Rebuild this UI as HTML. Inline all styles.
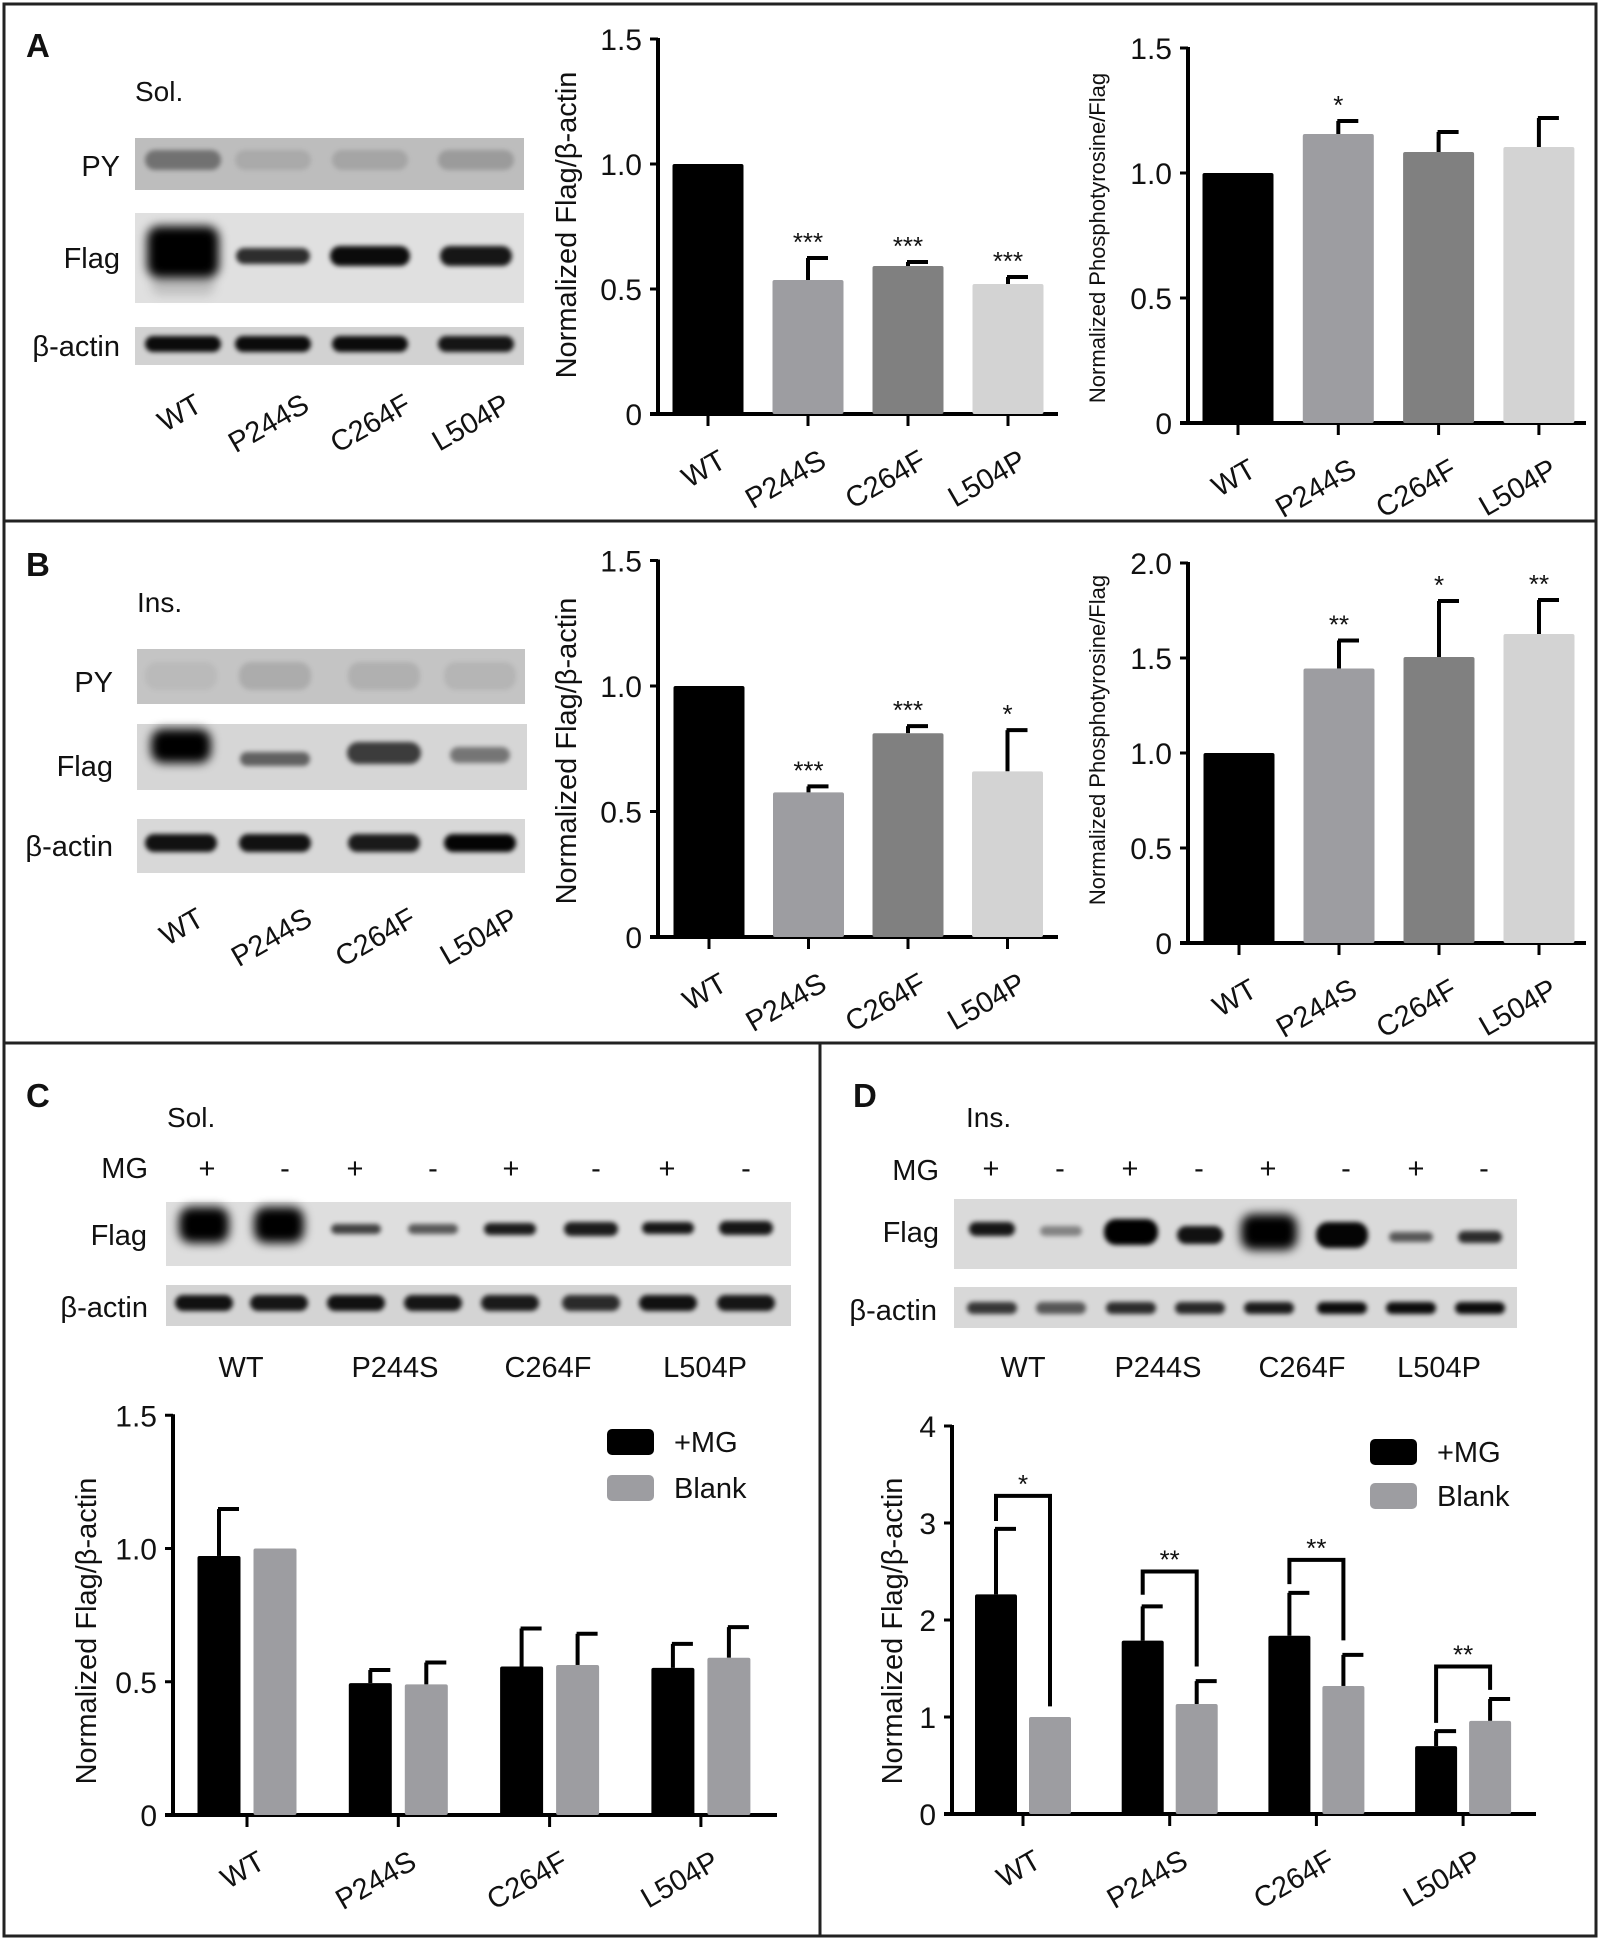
<!DOCTYPE html>
<html><head><meta charset="utf-8"><title>Figure</title>
<style>
html,body{margin:0;padding:0;background:#fff;}
svg{display:block;font-family:"Liberation Sans",Arial,sans-serif;}
</style></head>
<body>
<svg id="fig" width="1599" height="1946" viewBox="0 0 1599 1946" xmlns="http://www.w3.org/2000/svg">
<defs>
<filter id="b3" x="-50%" y="-100%" width="200%" height="300%"><feGaussianBlur stdDeviation="2.5"/></filter>
<filter id="b6" x="-50%" y="-100%" width="200%" height="300%"><feGaussianBlur stdDeviation="5"/></filter>
</defs>
<rect x="0" y="0" width="1599" height="1946" fill="#fff"/>
<g id="frame" stroke="#222" stroke-width="3" fill="none">
<rect x="4" y="4" width="1592" height="1932"/>
<line x1="4" y1="521" x2="1596" y2="521"/>
<line x1="4" y1="1043" x2="1596" y2="1043"/>
<line x1="820" y1="1043" x2="820" y2="1936"/>
</g>
<g id="static" font-size="28" fill="#111">
<text x="26" y="57" font-size="33" font-weight="bold">A</text>
<text x="26" y="576" font-size="33" font-weight="bold">B</text>
<text x="26" y="1107" font-size="33" font-weight="bold">C</text>
<text x="853" y="1107" font-size="33" font-weight="bold">D</text>
<text x="135" y="101">Sol.</text>
<text x="137" y="612">Ins.</text>
<text x="167" y="1127">Sol.</text>
<text x="966" y="1127">Ins.</text>
</g>
<g id="blots"></g>
<g id="charts"></g>
</svg>
<script>
// ---------- chart data ----------
const categories = ["WT","P244S","C264F","L504P"];
const a1Values = [1.0, 0.536, 0.592, 0.52];
const a1Errors = [1.0, 0.624, 0.608, 0.548];
const a1Stars = ["", "***", "***", "***"];
const a1Ticks = [0, 0.5, 1.0, 1.5];
const a1TickLabels = ["0","0.5","1.0","1.5"];
const a2Values = [1.0, 1.156, 1.084, 1.104];
const a2Errors = [1.0, 1.208, 1.164, 1.22];
const a2Stars = ["", "*", "", ""];
const b1Values = [1.0, 0.576, 0.812, 0.66];
const b1Errors = [1.0, 0.60, 0.84, 0.824];
const b1Stars = ["", "***", "***", "*"];
const b2Values = [1.0, 1.445, 1.505, 1.626];
const b2Errors = [1.0, 1.592, 1.80, 1.805];
const b2Stars = ["", "**", "*", "**"];
const b2Ticks = [0, 0.5, 1.0, 1.5, 2.0];
const b2TickLabels = ["0","0.5","1.0","1.5","2.0"];
const seriesNames = ["+MG","Blank"];
const cMG = [0.972, 0.495, 0.557, 0.552];
const cMGErr = [1.148, 0.544, 0.70, 0.642];
const cBlank = [1.0, 0.49, 0.563, 0.59];
const cBlankErr = [1.0, 0.572, 0.68, 0.705];
const dMG = [2.264, 1.787, 1.837, 0.70];
const dMGErr = [2.94, 2.14, 2.28, 0.855];
const dBlank = [1.0, 1.134, 1.32, 0.96];
const dBlankErr = [1.0, 1.37, 1.64, 1.185];
const dTicks = [0, 1, 2, 3, 4];
const dTickLabels = ["0","1","2","3","4"];
const dBracketTop = [3.28, 2.5, 2.62, 1.52];
const dBracketLeftEnd = [3.02, 2.26, 2.37, 0.94];
const dBracketRightEnd = [1.11, 1.52, 1.79, 1.28];
const dBracketStars = ["*", "**", "**", "**"];

const NS = "http://www.w3.org/2000/svg";
const singleColors = ["#000000","#9d9da1","#808080","#d3d3d3"];
const groupColors = ["#000000","#9d9da1"];

function mk(tag, attrs, parent, txt){
  const e = document.createElementNS(NS, tag);
  for (const k in attrs) e.setAttribute(k, attrs[k]);
  if (txt !== undefined) e.textContent = txt;
  if (parent) parent.appendChild(e);
  return e;
}
const charts = document.getElementById('charts');

function drawAxes(g, cfg, ticks, labels){
  const y = v => cfg.y0 - v*cfg.scale;
  const ax = mk('line',{x1:cfg.ax,y1:y(ticks[ticks.length-1])-1,x2:cfg.ax,y2:cfg.y0+2,stroke:'#000','stroke-width':4},g);
  
  
  const xl = mk('line',{x1:cfg.ax-8,y1:cfg.y0,x2:cfg.xEnd,y2:cfg.y0,stroke:'#000','stroke-width':4},g);
  
  
  ticks.forEach((t,i)=>{
    const tk = mk('line',{x1:cfg.ax-8,y1:y(t),x2:cfg.ax,y2:y(t),stroke:'#000','stroke-width':3},g);
    
    
    const tl = mk('text',{x:cfg.ax-16,y:y(t)+11,'text-anchor':'end','font-size':30,fill:'#111'},g,labels[i]);
    
    
  });
  categories.forEach((c,i)=>{
    const cx = cfg.x(i);
    const tk = mk('line',{x1:cx,y1:cfg.y0,x2:cx,y2:cfg.y0+12,stroke:'#000','stroke-width':3},g);
    
    
    const tl = mk('text',{x:0,y:0,'text-anchor':'end','font-size':29,fill:'#111',transform:`translate(${cx+20},${cfg.y0+52}) rotate(-30)`},g,c);
    
    
  });
  const tt = mk('text',{x:0,y:0,'text-anchor':'middle','font-size':cfg.titleSize,fill:'#111',transform:`translate(${cfg.titleX},${cfg.titleY}) rotate(-90)`},g,cfg.title);
  
  
  return y;
}
function errBar(g, cx, yTop, yErr){
  const l = mk('line',{x1:cx,y1:yTop,x2:cx,y2:yErr,stroke:'#000','stroke-width':4},g);
  
  
  const c = mk('line',{x1:cx-1,y1:yErr,x2:cx+20,y2:yErr,stroke:'#000','stroke-width':4},g);
  
  
}
function singleChart(name, cfg, vals, errs, stars, ticks, labels){
  const g = mk('g',{},charts);
  
  
  const y = drawAxes(g, cfg, ticks, labels);
  vals.forEach((v,i)=>{
    const cx = cfg.x(i);
    if (errs[i] > v) errBar(g, cx, y(v), y(errs[i]));
    const r = mk('rect',{x:cx-cfg.bw/2,y:y(v),width:cfg.bw,height:cfg.y0-y(v),rx:2,fill:singleColors[i]},g);
    
    
    if (stars[i]){
      const s = mk('text',{x:cx,y:y(errs[i])-7,'text-anchor':'middle','font-size':26,fill:'#111'},g,stars[i]);
      
      
    }
  });
}
function groupChart(name, cfg, s1, e1, s2, e2, ticks, labels, legend){
  const g = mk('g',{},charts);
  
  
  const y = drawAxes(g, cfg, ticks, labels);
  [[s1,e1],[s2,e2]].forEach((s,k)=>{
    s[0].forEach((v,i)=>{
      const cx = cfg.x(i) + (k===0?-cfg.off:cfg.off);
      if (s[1][i] > v) errBar(g, cx, y(v), y(s[1][i]));
      const r = mk('rect',{x:cx-cfg.bw/2,y:y(v),width:cfg.bw,height:cfg.y0-y(v),rx:2,fill:groupColors[k]},g);
      
      
    });
  });
  seriesNames.forEach((n,k)=>{
    const lg = mk('g',{},g);
    
    
    mk('rect',{x:legend.x,y:legend.y+k*legend.dy,width:47,height:26,rx:5,fill:groupColors[k]},lg);
    mk('text',{x:legend.x+67,y:legend.y+k*legend.dy+23,'font-size':29,fill:'#111'},lg,n);
  });
  return {g,y};
}

singleChart('chart-a-flag', {ax:658,y0:414,scale:250,xEnd:1058,x:i=>708+100*i,bw:71,title:'Normalized Flag/β-actin',titleSize:29,titleX:576,titleY:225}, a1Values, a1Errors, a1Stars, a1Ticks, a1TickLabels);
singleChart('chart-a-phospho', {ax:1188,y0:423,scale:250,xEnd:1586,x:i=>1238+100.3*i,bw:71,title:'Normalized Phosphotyrosine/Flag',titleSize:22,titleX:1105,titleY:238}, a2Values, a2Errors, a2Stars, a1Ticks, a1TickLabels);
singleChart('chart-b-flag', {ax:658,y0:937,scale:251,xEnd:1058,x:i=>709+99.5*i,bw:71,title:'Normalized Flag/β-actin',titleSize:29,titleX:576,titleY:751}, b1Values, b1Errors, b1Stars, a1Ticks, a1TickLabels);
singleChart('chart-b-phospho', {ax:1188,y0:943,scale:190,xEnd:1586,x:i=>1239+100*i,bw:71,title:'Normalized Phosphotyrosine/Flag',titleSize:22,titleX:1105,titleY:740}, b2Values, b2Errors, b2Stars, b2Ticks, b2TickLabels);
groupChart('chart-c', {ax:173,y0:1815,scale:266.5,xEnd:777,x:i=>247+151.3*i,off:28,bw:43,title:'Normalized Flag/β-actin',titleSize:29,titleX:96,titleY:1631}, cMG, cMGErr, cBlank, cBlankErr, a1Ticks, a1TickLabels, {x:607,y:1429,dy:46});
const dc = {ax:952,y0:1814,scale:97,xEnd:1536,x:i=>1023+146.7*i,off:27,bw:42,title:'Normalized Flag/β-actin',titleSize:29,titleX:902,titleY:1631};
const D = groupChart('chart-d', dc, dMG, dMGErr, dBlank, dBlankErr, dTicks, dTickLabels, {x:1370,y:1439,dy:44});
dBracketTop.forEach((t,i)=>{
  const xl = dc.x(i)-dc.off, xr = dc.x(i)+dc.off;
  const p = mk('polyline',{points:`${xl},${D.y(dBracketLeftEnd[i])} ${xl},${D.y(t)} ${xr},${D.y(t)} ${xr},${D.y(dBracketRightEnd[i])}`,fill:'none',stroke:'#000','stroke-width':4},D.g);
  
  
  const s = mk('text',{x:(xl+xr)/2,y:D.y(t)-3,'text-anchor':'middle','font-size':26,fill:'#111'},D.g,dBracketStars[i]);
  
  
});

// ---------- western blots (image-like) ----------
const blots = document.getElementById('blots');
function blot(name, x, y, w, h, bg, bands){
  const g = mk('g',{},blots);
  
  
  mk('rect',{x:x,y:y,width:w,height:h,fill:bg},g);
  bands.forEach(b=>{
    mk('rect',{x:b[0]-b[2],y:b[1]-b[3],width:2*b[2],height:2*b[3],rx:Math.min(b[3],12),fill:'#000','fill-opacity':b[4],filter:b[5]||'url(#b3)'},g);
  });
}
function lanes(xs, cy, rx, ry, ops, extra){
  return xs.map((x,i)=>[x,cy,rx,ry,ops[i]]).concat(extra||[]);
}
const laneA=[183,273,370,476], laneB=[181,275,384,480];
blot('blot-a-py',135,138,389,52,'#bdbdbd',lanes(laneA,160,38,10,[0.4,0.1,0.13,0.18]));
blot('blot-a-flag',135,213,389,90,'#e0e0e0',[[183,252,36,26,1,'url(#b6)'],[183,285,32,10,0.15,'url(#b6)'],[273,256,37,8,0.8],[370,256,40,10,0.95],[476,256,36,10,0.9]]);
blot('blot-a-actin',135,327,389,38,'#d2d2d2',lanes(laneA,344,38,8,[0.95,0.95,0.95,0.9]));
blot('blot-b-py',137,649,388,55,'#c4c4c4',lanes(laneB,676,36,14,[0.05,0.12,0.1,0.08]));
blot('blot-b-flag',137,724,390,66,'#d6d6d6',[[181,746,30,17,1,'url(#b6)'],[275,759,35,7,0.55],[384,753,37,11,0.72],[480,755,30,8,0.45]]);
blot('blot-b-actin',137,819,388,54,'#d8d8d8',lanes(laneB,843,36,9,[0.92,0.92,0.88,0.98]));
const laneC=[204,279,356,433,510,591,668,746], laneD=[992,1061,1131,1200,1269,1342,1411,1480];
blot('blot-c-flag',166,1202,625,64,'#dedede',[[204,1225,25,18,1,'url(#b6)'],[279,1225,25,18,1,'url(#b6)'],[356,1229,25,5,0.7],[433,1229,25,5,0.6],[510,1229,26,6,0.88],[591,1229,27,7,0.88],[668,1228,26,6,0.9],[746,1228,27,7,0.9]]);
blot('blot-c-actin',166,1285,625,41,'#d4d4d4',lanes(laneC,1303,29,8,[0.92,0.9,0.92,0.9,0.88,0.8,0.92,0.9]));
blot('blot-d-flag',954,1199,563,70,'#dadada',[[992,1229,23,7,0.9],[1061,1231,21,5,0.4],[1131,1232,27,13,1],[1200,1235,23,9,0.92],[1269,1232,28,18,1,'url(#b6)'],[1342,1235,26,13,0.98],[1411,1237,22,5,0.6],[1480,1237,22,6,0.8]]);
blot('blot-d-actin',954,1287,563,41,'#d8d8d8',lanes(laneD,1308,25,6,[0.75,0.6,0.8,0.82,0.88,0.95,0.95,0.95]));

// blot labels
const lab = mk('g',{'font-size':29,fill:'#111'},blots);


[[120,176,'PY'],[120,268,'Flag'],[120,356,'β-actin'],[113,692,'PY'],[113,776,'Flag'],[113,856,'β-actin'],
 [148,1178,'MG'],[147,1245,'Flag'],[148,1317,'β-actin'],[939,1180,'MG'],[939,1242,'Flag'],[937,1320,'β-actin']].forEach(a=>{
  const t = mk('text',{x:a[0],y:a[1],'text-anchor':'end'},lab,a[2]);
  
  
});
// rotated lane labels A/B
[[204,311,413,512,410],[206,314,418,520,924]].forEach(r=>{
  categories.forEach((c,i)=>{
    const t = mk('text',{x:0,y:0,'text-anchor':'end',transform:`translate(${r[i]},${r[4]}) rotate(-30)`},lab,c);
    
    
  });
});
// horizontal lane labels C/D
[[241,395,548,705],[1023,1158,1302,1439]].forEach(r=>{
  categories.forEach((c,i)=>{
    const t = mk('text',{x:r[i],y:1377,'text-anchor':'middle'},lab,c);
    
    
  });
});
// MG +/- marks
const signs = ["+","-","+","-","+","-","+","-"];
[[207,285,355,433,511,596,667,746], [991,1060,1130,1199,1268,1346,1416,1484]].forEach(xs=>{
  xs.forEach((x,i)=>{
    const t = mk('text',{x:x,y:1178,'text-anchor':'middle'},lab,signs[i]);
    
    
  });
});
</script>
</body></html>
